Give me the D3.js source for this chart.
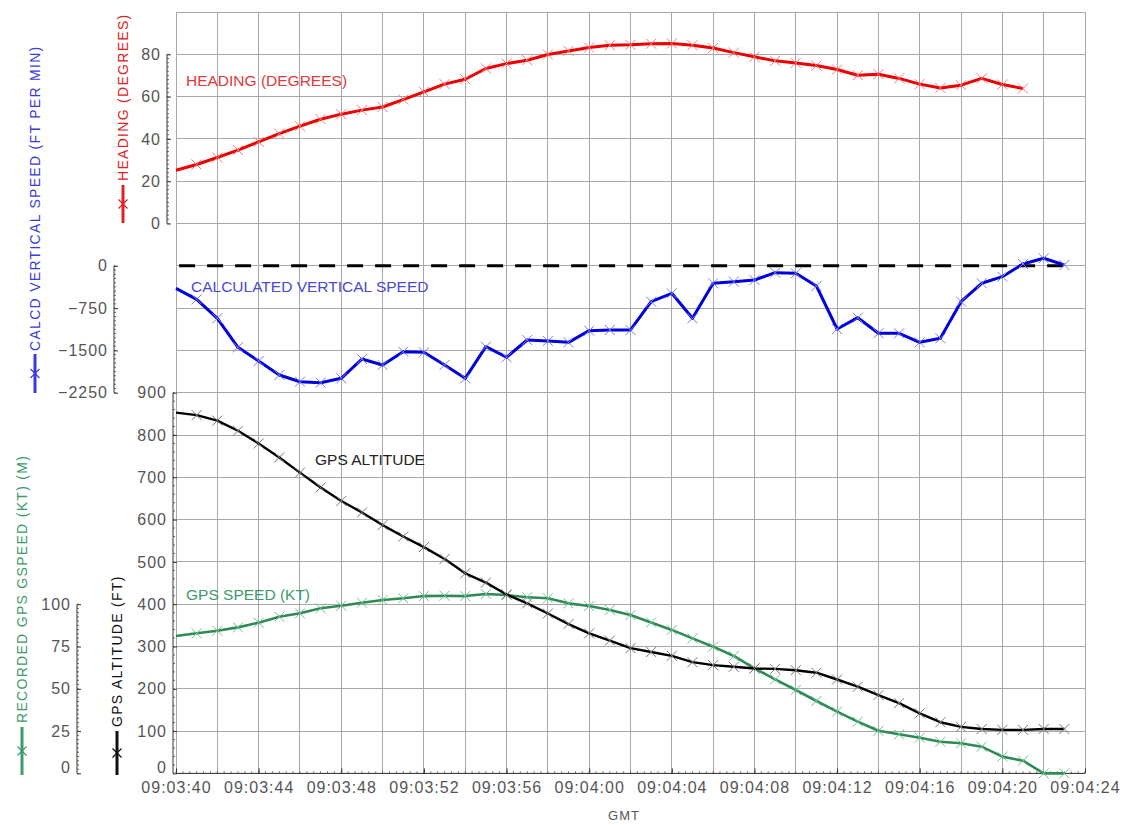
<!DOCTYPE html>
<html><head><meta charset="utf-8">
<script src="https://cdn.jsdelivr.net/npm/d3@7"></script>
<style>
body{margin:0;background:#fff;}
svg{display:block;font-family:"Liberation Sans",Arial,sans-serif;}
</style></head><body>
<svg id="c" width="1122" height="825"></svg>
<script>
// seconds after 09:03:40
const seconds = d3.range(0, 44);
const heading = [25.2,27.9,31.2,34.7,38.6,42.5,46.0,49.3,51.7,53.6,55.1,58.6,62.2,65.9,68.2,73.3,75.6,77.2,79.9,81.6,83.2,84.3,84.5,85.0,85.1,84.3,83.0,80.8,78.8,76.9,75.9,74.7,72.8,70.1,70.6,68.6,65.9,64.1,65.4,68.6,65.7,63.8];
const vertSpeed = [-399,-594,-931,-1445,-1688,-1936,-2055,-2072,-1995,-1652,-1759,-1523,-1534,-1759,-1995,-1434,-1622,-1316,-1333,-1357,-1150,-1138,-1138,-636,-488,-931,-310,-281,-252,-122,-133,-358,-1121,-920,-1197,-1197,-1357,-1286,-636,-310,-193,32,133,14];
const altitude = [853,847,834,810,780,747,711,676,644,617,587,560,535,507,473,451,423,402,378,353,331,314,296,287,278,263,256,252,248,247,244,238,222,205,185,166,142,121,110,105,103,103,105,105];
const gpsSpeed = [81.2,82.8,84.3,86.3,89.1,92.6,94.6,97.6,99.1,100.9,102.5,103.5,104.8,105.0,104.8,106.0,105.4,104.1,103.5,100.5,98.9,96.6,93.6,89.2,84.8,79.8,74.9,69.4,62.1,55.6,49.3,42.8,36.5,30.6,25.2,23.1,21.1,18.7,17.8,15.8,9.9,7.5,0,0];
const xTickSeconds = d3.range(0, 45, 4);
const xTickLabels = ["09:03:40","09:03:44","09:03:48","09:03:52","09:03:56","09:04:00","09:04:04","09:04:08","09:04:12","09:04:16","09:04:20","09:04:24"];
const headingTicks = [0,20,40,60,80];
const vsTicks = [0,-750,-1500,-2250];
const altTicks = [0,100,200,300,400,500,600,700,800,900];
const spdTicks = [0,25,50,75,100];

const svg = d3.select("#c");
const L = 176, R = 1085, T = 12, row = 42.3, B = T + row*18;
const x = d3.scaleLinear().domain([0,44]).range([L,R]);
const yHead = d3.scaleLinear().domain([0,100]).range([T+row*5, T]);
const yVs = d3.scaleLinear().domain([-2250,0]).range([T+row*9, T+row*6]);
const yAlt = d3.scaleLinear().domain([0,900]).range([B, T+row*9]);
const ySpd = d3.scaleLinear().domain([0,100]).range([B, T+row*14]);

// grid
const grid = svg.append("g").attr("stroke","#a8a8a8").attr("stroke-width",1).attr("shape-rendering","crispEdges");
d3.range(0,45,2).forEach(s => grid.append("line").attr("x1",x(s)).attr("x2",x(s)).attr("y1",T).attr("y2",B));
d3.range(0,19).forEach(i => grid.append("line").attr("x1",L).attr("x2",R).attr("y1",T+row*i).attr("y2",T+row*i));

const tickFont = g => g.selectAll("text").attr("font-size",16).attr("fill","#555").attr("letter-spacing","1px")
  .attr("font-family","'Liberation Sans',Arial,sans-serif");

function leftAxis(scale, ticks, minorStep, xpos, domainMin, domainMax){
  const g = svg.append("g").attr("transform",`translate(${xpos},0)`);
  const ax = d3.axisRight(scale).tickValues(ticks).tickSize(4).tickFormat(d3.format("d"));
  g.call(ax);
  g.select(".domain").remove();
  g.selectAll(".tick line").attr("stroke","#333");
  g.selectAll(".tick text").attr("x",-6).attr("text-anchor","end");
  tickFont(g);
  g.append("line").attr("x1",0).attr("x2",0).attr("y1",scale(domainMin)).attr("y2",scale(domainMax)).attr("stroke","#333");
  const minor = d3.range(domainMin, domainMax + minorStep/2, minorStep);
  g.selectAll(".mn").data(minor).join("line").attr("class","mn")
    .attr("x1",0).attr("x2",2).attr("y1",d=>scale(d)).attr("y2",d=>scale(d)).attr("stroke","#444").attr("stroke-width",0.8);
  return g;
}
leftAxis(yHead, headingTicks, 2, 167, 0, 80);
leftAxis(yVs, vsTicks, 75, 114, -2250, 0);
const ga = leftAxis(yAlt, altTicks, 20, 173, 0, 900);
const gs = leftAxis(ySpd, spdTicks, 2.5, 77, 0, 100);
[ga, gs].forEach(g => g.selectAll(".tick").filter(d => d === 0).select("text").attr("dy","-0.05em"));

// bottom axis
const bx = svg.append("g").attr("transform",`translate(0,${B})`);
bx.call(d3.axisTop(x).tickValues(xTickSeconds).tickSize(5).tickFormat((d,i)=>xTickLabels[i]));
bx.select(".domain").remove();
bx.selectAll(".tick line").attr("stroke","#333");
bx.selectAll(".tick text").attr("y",20).attr("dy","0");
tickFont(bx);
bx.append("line").attr("x1",L).attr("x2",R).attr("stroke","#333");
bx.selectAll(".mn").data(d3.range(0,44.01,1/3)).join("line").attr("class","mn")
  .attr("x1",d=>x(d)).attr("x2",d=>x(d)).attr("y1",0).attr("y2",-2).attr("stroke","#444").attr("stroke-width",0.8);
svg.append("text").attr("x",624).attr("y",820).attr("text-anchor","middle").attr("font-size",13)
  .attr("fill","#555").attr("letter-spacing","1px").text("GMT");

// zero dashed line
svg.append("line").attr("x1",x(0.15)).attr("x2",x(43.5)).attr("y1",yVs(0)).attr("y2",yVs(0))
  .attr("stroke","#000").attr("stroke-width",3).attr("stroke-dasharray","16,12");

function series(vals, yScale, lineColor, markColor, width){
  const pts = vals.map((v,i)=>[seconds[i], v]);
  svg.append("path").datum(pts).attr("fill","none").attr("stroke",lineColor).attr("stroke-width",width)
    .attr("stroke-linejoin","round")
    .attr("d", d3.line().x(d=>x(d[0])).y(d=>yScale(d[1])));
  const m = svg.append("g").attr("stroke",markColor).attr("stroke-width",1);
  pts.slice(1).forEach(d=>{
    const cx = x(d[0]), cy = yScale(d[1]), s = 5;
    m.append("path").attr("d",`M${cx-s},${cy-s}L${cx+s},${cy+s}M${cx-s},${cy+s}L${cx+s},${cy-s}`);
  });
}
series(heading, yHead, "#ee0000", "#f07a7a", 3);
series(vertSpeed, yVs, "#0000dd", "#7d7de0", 3);
series(gpsSpeed, ySpd, "#2e8b57", "#6fbf8f", 2.6);
series(altitude, yAlt, "#000000", "#777777", 2.4);

// in-plot labels
const lab = (t,xx,yy,c)=>svg.append("text").attr("x",xx).attr("y",yy).attr("font-size",15.5).attr("fill",c).text(t);
lab("HEADING (DEGREES)",186,86,"#dd3a3a");
lab("CALCULATED VERTICAL SPEED",191,292,"#4a4ad0");
lab("GPS ALTITUDE",315,465,"#222");
lab("GPS SPEED (KT)",186,600,"#3c9a6c");

// rotated axis titles with legend markers
function title(t, bx0, yStart, color, lineX, lineY1, lineY2){
  svg.append("text").attr("transform",`translate(${bx0},${yStart}) rotate(-90)`).attr("font-size",14)
    .attr("letter-spacing","1.3px").attr("fill",color).text(t);
  svg.append("line").attr("x1",lineX).attr("x2",lineX).attr("y1",lineY1).attr("y2",lineY2)
    .attr("stroke",color).attr("stroke-width",3);
  const cy = (lineY1+lineY2)/2, s=4.5;
  svg.append("path").attr("d",`M${lineX-s},${cy-s}L${lineX+s},${cy+s}M${lineX-s},${cy+s}L${lineX+s},${cy-s}`)
    .attr("stroke",color).attr("stroke-width",1.2);
}
title("HEADING (DEGREES)", 128, 181, "#e02020", 123, 185, 223);
title("CALCD VERTICAL SPEED (FT PER MIN)", 40, 351, "#3b3bdd", 35, 354, 393);
title("RECORDED GPS GSPEED (KT) (M)", 27, 723, "#3c9a6c", 22, 727, 775);
title("GPS ALTITUDE (FT)", 122, 727, "#111", 117, 731, 775);
</script>
</body></html>
